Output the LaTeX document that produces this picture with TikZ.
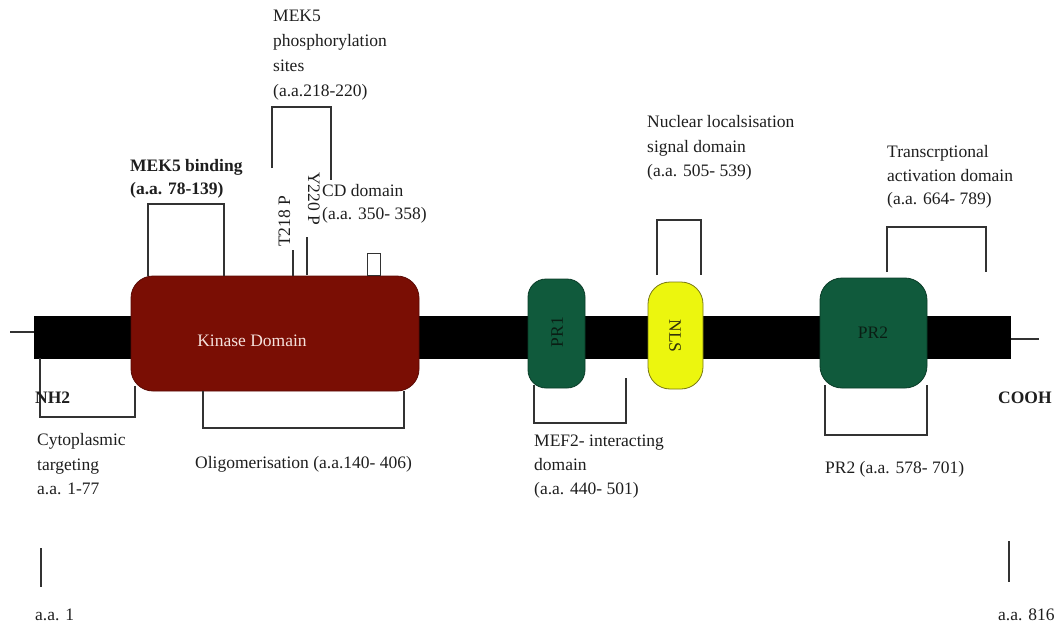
\documentclass[tikz,border=0pt]{standalone}
\usepackage{fontspec}
\setmainfont{Liberation Serif}
\definecolor{kin}{RGB}{122,14,4}
\definecolor{kinb}{RGB}{90,10,4}
\definecolor{grn}{RGB}{16,90,60}
\definecolor{grnb}{RGB}{10,60,40}
\definecolor{yel}{RGB}{236,246,14}
\definecolor{yelb}{RGB}{120,120,20}
\definecolor{txt}{RGB}{30,30,30}
\definecolor{brk}{RGB}{50,50,50}
\begin{document}
\begin{tikzpicture}[x=1pt,y=-1pt,
  lbl/.style={font=\fontsize{17.5}{24}\selectfont, inner sep=0pt, align=left, anchor=north west, text=txt},
  sgl/.style={font=\fontsize{17.5}{24}\selectfont, inner sep=0pt, anchor=base west, text=txt},
  bld/.style={font=\fontsize{17.5}{23}\selectfont\bfseries},
  brk/.style={draw=brk, line width=1.3pt},
  dom/.style={line width=0.8pt, inner sep=0pt},
  tick/.style={draw=brk, line width=1.6pt},
]
\useasboundingbox (0,0) rectangle (1057,623);
% backbone
\node[fill=black, inner sep=0pt, minimum width=977pt, minimum height=43pt] (bar) at (522.5,337.5) {};
\coordinate (nstub) at (10,332);
\coordinate (cstub) at (1039,339);
\draw[brk, line width=1.2pt] (nstub) -- (bar.west |- nstub);
\draw[brk, line width=1.2pt] (bar.east |- cstub) -- (cstub);
% domains
\node[dom, fill=kin, draw=kinb, rounded corners=22pt, minimum width=288pt, minimum height=115pt] (kin) at (275,333.5) {};
\node[font=\fontsize{17.5}{20}\selectfont, text={rgb,255:red,245;green,225;blue,220}] (kintext) at (252,341) {Kinase Domain};
\node[dom, fill=grn, draw=grnb, rounded corners=18pt, minimum width=57pt, minimum height=109pt] (pr1) at (556.5,333.5) {};
\node[font=\fontsize{17.5}{20}\selectfont, text={rgb,255:red,10;green,30;blue,20}, rotate=90] (pr1t) at (557,332) {PR1};
\node[dom, fill=yel, draw=yelb, rounded corners=22pt, minimum width=55pt, minimum height=107pt] (nls) at (675.5,335.5) {};
\node[font=\fontsize{17.5}{20}\selectfont, text={rgb,255:red,50;green,50;blue,10}, rotate=-90] (nlst) at (675,336) {NLS};
\node[dom, fill=grn, draw=grnb, rounded corners=22pt, minimum width=107pt, minimum height=110pt] (pr2) at (873.5,333) {};
\node[font=\fontsize{17.5}{20}\selectfont, text={rgb,255:red,10;green,30;blue,20}] (pr2t) at (873,333) {PR2};
% CD small box
\node[draw=brk, line width=1pt, fill=white, inner sep=0pt, minimum width=13pt, minimum height=22pt, anchor=south] (cd) at (373.5,276) {};
% brackets
\draw[brk] (148,276) |- (224,204) -- (224,276);
\draw[brk] (272,168) |- (331,107) -- (331,180);
\draw[brk] (293,250) -- (293,276);
\draw[brk] (307,237) -- (307,275);
\draw[brk] (40,358) |- (135,417) -- (135,386);
\draw[brk] (203,391) |- (404,428) -- (404,391);
\draw[brk] (534,385) |- (626,423) -- (626,378);
\draw[brk] (657,275) |- (701,220) -- (701,275);
\draw[brk] (887,272) |- (986,227) -- (986,272);
\draw[brk] (825,385) |- (927,435) -- (927,385);
% ticks
\draw[tick] (41,548) -- (41,587);
\draw[tick] (1009,541) -- (1009,582);
% labels
\node[lbl, font=\fontsize{17.5}{25}\selectfont] (phos) at (273,9.5) {MEK5\\phosphorylation\\sites\\(a.a.218-220)};
\node[lbl, bld] (mekb) at (130,159.5) {MEK5 binding\\(a.a. 78-139)};
\node[sgl, rotate=90] (t218) at (290,247) {T218 P};
\node[sgl, rotate=-90] (y220) at (308,172) {Y220 P};
\node[lbl, font=\fontsize{17.5}{23}\selectfont] (cdl) at (322,184.5) {CD domain\\(a.a. 350- 358)};
\node[lbl, font=\fontsize{17.5}{24.5}\selectfont] (nlsl) at (647,115.5) {Nuclear localsisation\\signal domain\\(a.a. 505- 539)};
\node[lbl, font=\fontsize{17.5}{23.5}\selectfont] (tadl) at (887,145.5) {Transcrptional\\activation domain\\(a.a. 664- 789)};
\node[lbl] (mefl) at (534,434.5) {MEF2- interacting\\domain\\(a.a. 440- 501)};
\node[sgl] (pr2l) at (825,473) {PR2 (a.a. 578- 701)};
\node[lbl, font=\fontsize{17.5}{24.5}\selectfont] (cytl) at (37,433.5) {Cytoplasmic\\targeting\\a.a. 1-77};
\node[sgl] (olil) at (195,468) {Oligomerisation (a.a.140- 406)};
\node[sgl, bld] (nh2) at (35,403) {NH2};
\node[sgl, bld] (cooh) at (998,403) {COOH};
\node[sgl] (aa1) at (35,620) {a.a. 1};
\node[sgl] (aa816) at (998,620) {a.a. 816};
\end{tikzpicture}
\end{document}
